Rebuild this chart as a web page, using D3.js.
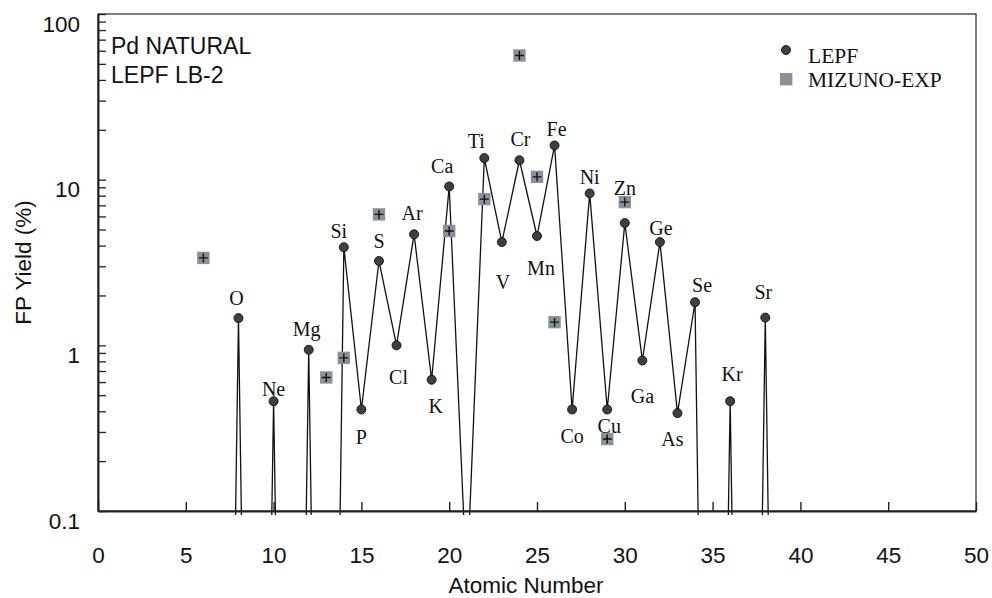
<!DOCTYPE html>
<html>
<head>
<meta charset="utf-8">
<script src="https://cdn.jsdelivr.net/npm/d3@7"></script>
<style>
  html, body { margin: 0; padding: 0; background: #fff; }
  svg { display: block; }
  .sans { font-family: "Liberation Sans", Arial, sans-serif; }
  .serif { font-family: "Liberation Serif", "Times New Roman", serif; }
</style>
</head>
<body>
<svg id="chart" width="992" height="598"></svg>
<script>
// LEPF calculated fragment yields for natural Pd (labelled nuclides)
const elements      = ["O","Ne","Mg","Si","P","S","Cl","Ar","K","Ca","Ti","V","Cr","Mn","Fe","Co","Ni","Cu","Zn","Ga","Ge","As","Se","Kr","Sr"];
const atomicNumbers = [8, 10, 12, 14, 15, 16, 17, 18, 19, 20, 22, 23, 24, 25, 26, 27, 28, 29, 30, 31, 32, 33, 34, 36, 38];
const lepfYield     = [1.46,0.46,0.94,3.91,0.41,3.23,1.0,4.68,0.62,9.1,13.5,4.2,13.1,4.57,16.1,0.41,8.26,0.41,5.47,0.81,4.2,0.39,1.82,0.46,1.47];

// fragments whose yield falls below the plotted range (no marker, curve only)
const traceZ     = [7, 9, 11, 13, 21, 35, 37, 39];
const traceYield = [1e-7, 1e-7, 1e-7, 1e-7, 0.035, 1e-7, 1e-7, 1e-7];

// Mizuno experimental yields
const mizunoZ     = [6, 13, 14, 16, 20, 22, 24, 25, 26, 29, 30];
const mizunoYield = [3.37, 0.64, 0.84, 6.17, 4.9, 7.63, 56.2, 10.4, 1.38, 0.272, 7.32];

// axis ticks
const xTicks       = [0, 5, 10, 15, 20, 25, 30, 35, 40, 45, 50];
const yMajorTicks  = [0.1, 1, 10, 100];
const yMajorLabels = ["0.1", "1", "10", "100"];
const yMinorTicks  = [0.2,0.3,0.4,0.5,0.6,0.7,0.8,0.9, 2,3,4,5,6,7,8,9, 20,30,40,50,60,70,80,90];

// label placement (text centre relative to its marker, px)
const labelNudge = {
  O:[-2,-20], Ne:[0,-12], Mg:[-2,-20], Si:[-5,-16], P:[0,28], S:[0,-20], Cl:[2,32],
  Ar:[-2,-21], K:[4,27], Ca:[-7,-20], Ti:[-8,-17], V:[1,40], Cr:[1,-21], Mn:[4,32],
  Fe:[2,-16], Co:[0,27], Ni:[0,-16], Cu:[2,17], Zn:[0,-35], Ga:[0,36], Ge:[1,-14],
  As:[-5,26], Se:[7,-17], Kr:[2,-27], Sr:[-2,-25]
};

const svg = d3.select("#chart");
const L = 98, R = 976, T = 14, B = 511;

const x = d3.scaleLinear().domain([0, 50]).range([L, R]);
const y = d3.scaleLog().domain([0.1, 100]).range([B, T]);

svg.append("defs").append("clipPath").attr("id", "plotClip")
  .append("rect").attr("x", L).attr("y", 0).attr("width", R - L).attr("height", B + 4);

// frame
svg.append("rect")
  .attr("x", L).attr("y", T).attr("width", R - L).attr("height", B - T)
  .attr("fill", "none").attr("stroke", "#444").attr("stroke-width", 1.4);

// LEPF series: labelled points plus the off-scale points, joined in Z order
const lepf = atomicNumbers.map((z, i) => ({ z, v: lepfYield[i], name: elements[i] }))
  .concat(traceZ.map((z, i) => ({ z, v: traceYield[i], name: null })))
  .sort((a, b) => a.z - b.z);

const line = d3.line().x(d => x(d.z)).y(d => y(d.v));
svg.append("path")
  .datum(lepf)
  .attr("clip-path", "url(#plotClip)")
  .attr("d", line)
  .attr("fill", "none")
  .attr("stroke", "#111")
  .attr("stroke-width", 1.3)
  .attr("stroke-linejoin", "miter");

// x axis
const xAxis = d3.axisBottom(x).tickValues(xTicks).tickSize(-9).tickSizeOuter(0).tickPadding(36);
const gx = svg.append("g").attr("transform", `translate(0,${B})`).call(xAxis);
gx.select(".domain").attr("stroke", "#222").attr("stroke-width", 2);
gx.selectAll(".tick line").attr("stroke", "#222").attr("stroke-width", 1.4);
gx.selectAll(".tick text").attr("class", "sans").attr("font-size", 22.5).attr("fill", "#111");

// y axis (log, major + minor ticks inside)
const yAxis = d3.axisLeft(y)
  .tickValues(yMajorTicks.concat(yMinorTicks))
  .tickSize(-8).tickSizeOuter(0).tickPadding(18)
  .tickFormat(d => { const k = yMajorTicks.indexOf(d); return k >= 0 ? yMajorLabels[k] : ""; });
const gy = svg.append("g").attr("transform", `translate(${L},0)`).call(yAxis);
gy.select(".domain").attr("stroke", "#222").attr("stroke-width", 2);
gy.selectAll(".tick line").attr("stroke", "#222").attr("stroke-width", 1.3);
gy.selectAll(".tick text").attr("class", "sans").attr("font-size", 22.5).attr("fill", "#111").attr("dy", 17);

// axis titles
svg.append("text").attr("class", "sans")
  .attr("x", 526).attr("y", 593).attr("text-anchor", "middle")
  .attr("font-size", 22.5).attr("fill", "#111").text("Atomic Number");
svg.append("text").attr("class", "sans")
  .attr("transform", `translate(31,${(T + B) / 2}) rotate(-90)`)
  .attr("text-anchor", "middle").attr("font-size", 22.5).attr("fill", "#111").text("FP Yield (%)");

// sample notes
svg.append("text").attr("class", "sans").attr("x", 111).attr("y", 54)
  .attr("font-size", 23).attr("fill", "#111").text("Pd NATURAL");
svg.append("text").attr("class", "sans").attr("x", 111).attr("y", 83)
  .attr("font-size", 23).attr("fill", "#111").text("LEPF LB-2");

// Mizuno markers: grey squares with a cross
const sq = 12.4;
const mz = svg.append("g").selectAll("g")
  .data(mizunoZ.map((z, i) => ({ z, v: mizunoYield[i] })))
  .join("g")
  .attr("transform", d => `translate(${x(d.z)},${y(d.v)})`);
mz.append("rect").attr("x", -sq / 2).attr("y", -sq / 2).attr("width", sq).attr("height", sq)
  .attr("fill", "#8a9198");
mz.append("path").attr("d", "M-4.5,0H4.5M0,-4.5V4.5").attr("stroke", "#111").attr("stroke-width", 1.4);

// LEPF markers
const pts = lepf.filter(d => d.name);
svg.append("g").selectAll("circle")
  .data(pts).join("circle")
  .attr("cx", d => x(d.z)).attr("cy", d => y(d.v)).attr("r", 4.5)
  .attr("fill", "#3b4141").attr("stroke", "#111").attr("stroke-width", 0.9);

// element symbols
svg.append("g").selectAll("text")
  .data(pts).join("text")
  .attr("class", "serif")
  .attr("x", d => x(d.z) + labelNudge[d.name][0])
  .attr("y", d => y(d.v) + labelNudge[d.name][1])
  .attr("dy", "0.33em")
  .attr("text-anchor", "middle")
  .attr("font-size", 20)
  .attr("fill", "#111")
  .text(d => d.name);

// legend
const lg = svg.append("g");
lg.append("circle").attr("cx", 786).attr("cy", 50).attr("r", 4.5)
  .attr("fill", "#3b4141").attr("stroke", "#111").attr("stroke-width", 0.9);
lg.append("text").attr("class", "serif").attr("x", 808).attr("y", 63)
  .attr("font-size", 21.5).attr("fill", "#111").text("LEPF");
lg.append("rect").attr("x", 780).attr("y", 73).attr("width", sq).attr("height", sq).attr("fill", "#8a9198");
lg.append("text").attr("class", "serif").attr("x", 808).attr("y", 87)
  .attr("font-size", 21.5).attr("fill", "#111").text("MIZUNO-EXP");
</script>
</body>
</html>
